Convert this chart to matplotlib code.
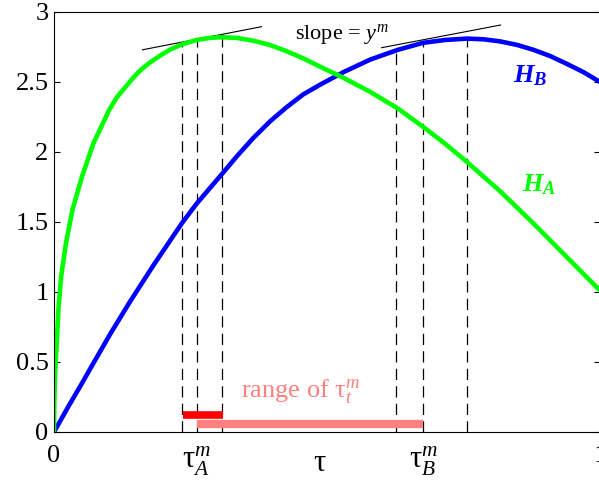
import numpy as np
from matplotlib import pyplot as plt
from matplotlib import transforms

plt.rcParams['font.family'] = ['Liberation Serif', 'DejaVu Serif']
plt.rcParams['mathtext.fontset'] = 'custom'
plt.rcParams['mathtext.rm'] = 'Liberation Serif'
plt.rcParams['mathtext.it'] = 'Liberation Serif:italic'
plt.rcParams['mathtext.bf'] = 'Liberation Serif:bold'
plt.rcParams['mathtext.bfit'] = 'Liberation Serif:italic:bold'

# curves
ha_x = [0, 0.0005, 0.0015, 0.003, 0.005, 0.008, 0.013, 0.022, 0.034, 0.051, 0.072, 0.101,
        0.115, 0.13, 0.145, 0.16, 0.176, 0.195, 0.212, 0.235, 0.261, 0.285, 0.307,
        0.335, 0.365, 0.395, 0.426, 0.456, 0.487, 0.53, 0.579, 0.63, 0.676, 0.716, 0.756,
        0.817, 0.878, 0.939, 1.0]
ha_y = [0, 0.2, 0.36, 0.5, 0.63, 0.87, 1.11, 1.35, 1.59, 1.82, 2.06, 2.30,
        2.39, 2.46, 2.53, 2.59, 2.64, 2.69, 2.73, 2.77, 2.80, 2.815, 2.82,
        2.815, 2.795, 2.765, 2.72, 2.67, 2.61, 2.53, 2.43, 2.31, 2.18, 2.06, 1.93,
        1.72, 1.49, 1.25, 1.01]

hb_x = [0, 0.026, 0.05, 0.069, 0.103, 0.139, 0.182, 0.234, 0.261, 0.307, 0.335, 0.365,
        0.396, 0.426, 0.456, 0.487, 0.53, 0.579, 0.63, 0.676, 0.716, 0.756, 0.787, 0.817,
        0.848, 0.878, 0.909, 0.939, 0.97, 1.0]
hb_y = [0, 0.18, 0.34, 0.47, 0.70, 0.93, 1.19, 1.49, 1.63, 1.84, 1.97, 2.10,
        2.22, 2.32, 2.41, 2.48, 2.57, 2.66, 2.73, 2.78, 2.80, 2.81, 2.805, 2.79,
        2.765, 2.73, 2.685, 2.63, 2.57, 2.50]

# dashed guides
guide_x = [0.234, 0.261, 0.307, 0.626, 0.676, 0.756]
guide_top = [2.78, 2.80, 2.84, 2.73, 2.78, 2.82]

# tangent segments (slope = y^m)
tan_a_x = [0.162, 0.380]
tan_a_y = [2.73, 2.895]
tan_b_x = [0.600, 0.818]
tan_b_y = [2.745, 2.907]

# range bars
bar_a_x = [0.237, 0.31]
bar_a_y = [0.125, 0.125]
bar_t_x = [0.261, 0.676]
bar_t_y = [0.056, 0.056]

xtick_pos = [0, 0.261, 0.487, 0.676, 1.0]
xtick_lab = ['0', r'$\mathrm{\tau}^m_A$', r'$\mathrm{\tau}$', r'$\mathrm{\tau}^m_B$', '1']
ytick_pos = [0, 0.5, 1, 1.5, 2, 2.5, 3]
ytick_lab = ['0', '0.5', '1', '1.5', '2', '2.5', '3']

fig = plt.figure(figsize=(5.99, 4.82), dpi=100)
ax = fig.add_axes([54/599, 50/482, 546/599, 420/482])

for gx, gt in zip(guide_x, guide_top):
    ax.plot([gx, gx], [0, gt], color='k', lw=0.9, dashes=(9, 5))

ax.plot(tan_a_x, tan_a_y, color='k', lw=0.8)
ax.plot(tan_b_x, tan_b_y, color='k', lw=0.8)

ax.plot(hb_x, hb_y, color='#0000ff', lw=3.3, solid_joinstyle='round')
ax.plot(ha_x, ha_y, color='#00ff00', lw=3.3, solid_joinstyle='round')

ax.plot(bar_t_x, bar_t_y, color='#ff8080', lw=6, solid_capstyle='butt')
ax.plot(bar_a_x, bar_a_y, color='#ff0000', lw=5.5, solid_capstyle='butt')

ax.text(0.441, 2.807, r'slope = $y^m$', fontsize=16, va='baseline')
ax.text(0.342, 0.25, r'range of $\mathrm{\tau}^m_t$', fontsize=19, color='#ff8080', va='baseline')
ax.text(0.841, 2.5, r'$\mathbfit{H}_\mathbfit{B}$', fontsize=19, color='#0000ff', va='baseline')
ax.text(0.857, 1.72, r'$\mathbfit{H}_\mathbfit{A}$', fontsize=19, color='#00ff00', va='baseline')

ax.set_xlim(0, 1)
ax.set_ylim(0, 3)
ax.set_xticks(xtick_pos)
ax.set_xticklabels(xtick_lab)
ax.set_yticks(ytick_pos)
ax.set_yticklabels(ytick_lab)
ax.tick_params(direction='in', length=4, labelsize=19, top=True, right=True, pad=4)
ax.tick_params(axis='x', length=0, pad=9)

labels = ax.get_xticklabels()
for lab in labels[1:4]:
    lab.set_fontsize(22)
# the lone tau sits a little lower in the original
labels[2].set_transform(labels[2].get_transform() +
                        transforms.ScaledTranslation(0, -3/72, fig.dpi_scale_trans))

fig.savefig('out.png', dpi=100)
